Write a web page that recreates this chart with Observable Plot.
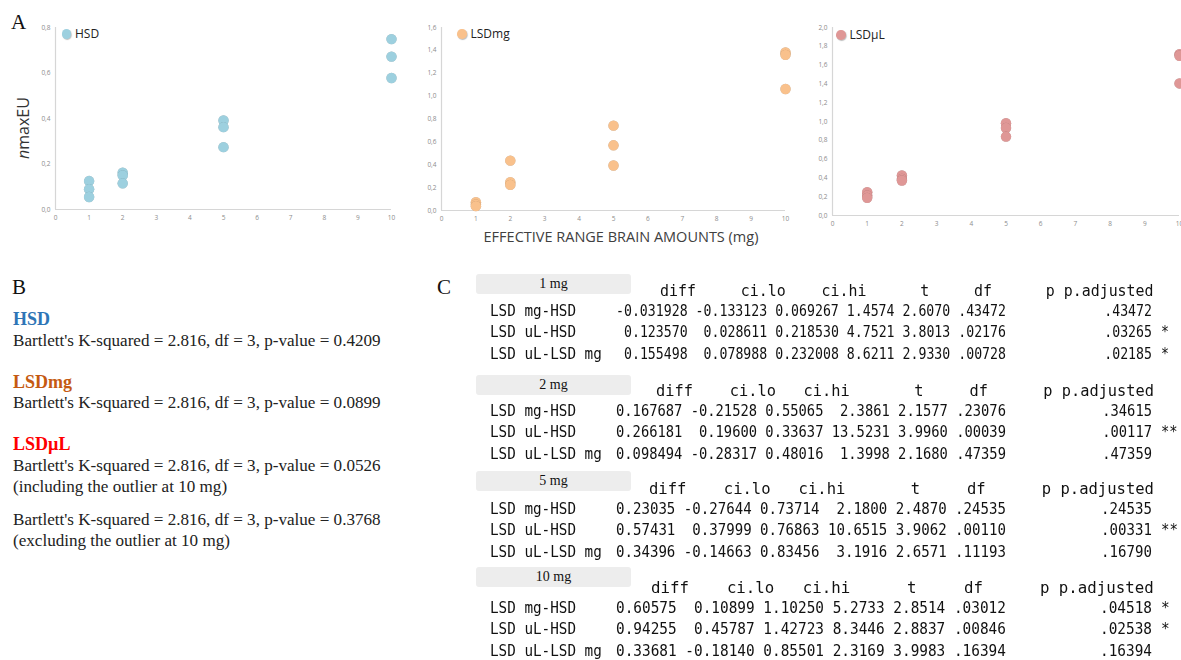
<!DOCTYPE html>
<html>
<head>
<meta charset="utf-8">
<script src="https://cdn.jsdelivr.net/npm/d3@7"></script>
<script src="https://cdn.jsdelivr.net/npm/@observablehq/plot@0.6"></script>
<style>
  html, body { margin: 0; padding: 0; background: #fff; }
  #root { position: relative; width: 1181px; height: 660px; overflow: hidden; background: #fff; }
  .abs { position: absolute; white-space: pre; }
  .panelLetter { font-family: "Liberation Serif", serif; font-size: 21px; color: #111; line-height: 1; }
  .legend { font-family: "Open Sans", sans-serif; font-size: 12px; color: #222; line-height: 1; display: flex; align-items: center; }
  .legend .sw { width: 9.5px; height: 9.5px; border-radius: 50%; margin-right: 4px; display: inline-block; }
  .serifB { font-family: "Liberation Serif", serif; font-size: 17.1px; color: #222; line-height: 1; }
  .mono { font-family: "DejaVu Sans Mono", monospace; font-size: 15.5px; color: #111; line-height: 16px; height: 16px; }
  .box { background: #ededed; border-radius: 3px; font-family: "Liberation Serif", serif; font-size: 14px; color: #111; text-align: center; line-height: 20px; }
</style>
</head>
<body>
<div id="root"></div>
<script>
// ---------------- DATA ----------------
const seriesNames = ["HSD", "LSDmg", "LSDµL"];
const doseLevels = [1, 2, 5, 10];
const xTickValues = [0, 1, 2, 3, 4, 5, 6, 7, 8, 9, 10];
// three replicate values per dose level
const hsdValues   = [[0.125, 0.089, 0.055], [0.162, 0.150, 0.115], [0.391, 0.362, 0.274], [0.749, 0.672, 0.578]];
const lsdMgValues = [[0.073, 0.052, 0.038], [0.436, 0.247, 0.224], [0.742, 0.570, 0.393], [1.382, 1.361, 1.062]];
const lsdUlValues = [[0.248, 0.212, 0.188], [0.425, 0.389, 0.372], [0.981, 0.931, 0.839], [1.717, 1.699, 1.405]];
const hsdYTicks   = [0, 0.2, 0.4, 0.6, 0.8];
const lsdMgYTicks = [0, 0.2, 0.4, 0.6, 0.8, 1.0, 1.2, 1.4, 1.6];
const lsdUlYTicks = [0, 0.2, 0.4, 0.6, 0.8, 1.0, 1.2, 1.4, 1.6, 1.8, 2.0];
const yAxisLabel = "maxEU";
const xAxisLabel = "EFFECTIVE RANGE BRAIN AMOUNTS (mg)";

// Panel B
const bartlettTitles = ["HSD", "LSDmg", "LSDµL"];
const bartlettLines = [
  ["Bartlett's K-squared = 2.816, df = 3, p-value = 0.4209"],
  ["Bartlett's K-squared = 2.816, df = 3, p-value = 0.0899"],
  ["Bartlett's K-squared = 2.816, df = 3, p-value = 0.0526", "(including the outlier at 10 mg)"],
  ["Bartlett's K-squared = 2.816, df = 3, p-value = 0.3768", "(excluding the outlier at 10 mg)"]
];

// Panel C
const tableDoses = ["1 mg", "2 mg", "5 mg", "10 mg"];
const comparisonNames = ["LSD mg-HSD", "LSD uL-HSD", "LSD uL-LSD mg"];
const columnNames = ["diff", "ci.lo", "ci.hi", "t", "df", "p", "p.adjusted"];
const rows1mg = [
  ["-0.031928", "-0.133123", "0.069267", "1.4574", "2.6070", ".43472", ".43472", ""],
  ["0.123570", "0.028611", "0.218530", "4.7521", "3.8013", ".02176", ".03265", "*"],
  ["0.155498", "0.078988", "0.232008", "8.6211", "2.9330", ".00728", ".02185", "*"]
];
const rows2mg = [
  ["0.167687", "-0.21528", "0.55065", "2.3861", "2.1577", ".23076", ".34615", ""],
  ["0.266181", "0.19600", "0.33637", "13.5231", "3.9960", ".00039", ".00117", "**"],
  ["0.098494", "-0.28317", "0.48016", "1.3998", "2.1680", ".47359", ".47359", ""]
];
const rows5mg = [
  ["0.23035", "-0.27644", "0.73714", "2.1800", "2.4870", ".24535", ".24535", ""],
  ["0.57431", "0.37999", "0.76863", "10.6515", "3.9062", ".00110", ".00331", "**"],
  ["0.34396", "-0.14663", "0.83456", "3.1916", "2.6571", ".11193", ".16790", ""]
];
const rows10mg = [
  ["0.60575", "0.10899", "1.10250", "5.2733", "2.8514", ".03012", ".04518", "*"],
  ["0.94255", "0.45787", "1.42723", "8.3446", "2.8837", ".00846", ".02538", "*"],
  ["0.33681", "-0.18140", "0.85501", "2.3169", "3.9983", ".16394", ".16394", ""]
];

// ---------------- STYLE / LAYOUT ----------------
const colors = ["#9dd0df", "#f9c18c", "#df9796"];
const titleColors = ["#2e75b6", "#c55a11", "#ff0000"];
const root = document.getElementById("root");

function el(cls, text, css) {
  const d = document.createElement("div");
  d.className = "abs " + cls;
  if (text != null) d.textContent = text;
  Object.assign(d.style, css);
  root.appendChild(d);
  return d;
}

const commaFmt = d => d.toFixed(1).replace(".", ",");

function toRows(values) {
  const out = [];
  doseLevels.forEach((dose, i) => values[i].forEach(v => out.push({dose, value: v})));
  return out;
}

function panel(values, yTicks, color, dims) {
  const chart = Plot.plot({
    width: dims.width, height: dims.height,
    marginLeft: dims.ml, marginRight: dims.mr, marginTop: dims.mt, marginBottom: dims.mb,
    style: {fontFamily: "Open Sans, sans-serif", fontSize: "6.5px", color: "#8c8c8c", background: "transparent", overflow: "visible"},
    x: {domain: [0, 10], ticks: xTickValues, tickSize: 0, tickPadding: 6, tickFormat: d => String(d), label: null},
    y: {domain: [0, yTicks[yTicks.length - 1]], ticks: yTicks, tickSize: 0, tickPadding: 5, tickFormat: commaFmt, label: null},
    marks: [
      Plot.ruleY([0], {stroke: "#d6d6d6", strokeWidth: 1.2}),
      Plot.ruleX([0], {stroke: "#d6d6d6", strokeWidth: 1.2}),
      Plot.dot(toRows(values), {x: "dose", y: "value", r: 5.2, fill: color, stroke: "none"})
    ]
  });
  chart.style.position = "absolute";
  chart.style.left = dims.left + "px";
  chart.style.top = "0px";
  chart.style.overflow = "visible";
  d3.select(chart).selectAll("circle").style("filter", "drop-shadow(0.7px 0.9px 0.7px rgba(0,0,0,0.28))");
  root.appendChild(chart);
}

panel(hsdValues, hsdYTicks, colors[0], {left: 0, width: 400, height: 230, ml: 55, mr: 9, mt: 27, mb: 21});
panel(lsdMgValues, lsdMgYTicks, colors[1], {left: 400, width: 400, height: 230, ml: 41, mr: 15, mt: 27, mb: 20});
panel(lsdUlValues, lsdUlYTicks, colors[2], {left: 790, width: 391, height: 236, ml: 42, mr: 2, mt: 27, mb: 21});

// legends
[[61.5, 28], [457, 28], [836, 29]].forEach((p, i) => {
  const d = el("legend", null, {left: p[0] + "px", top: p[1] + "px"});
  const sw = document.createElement("span");
  sw.className = "sw"; sw.style.background = colors[i];
  sw.style.boxShadow = "0.7px 0.9px 1px rgba(0,0,0,0.25)";
  d.appendChild(sw);
  d.appendChild(document.createTextNode(seriesNames[i]));
});

// panel letters
el("panelLetter", "A", {left: "11px", top: "12px"});
el("panelLetter", "B", {left: "12px", top: "277px"});
el("panelLetter", "C", {left: "437px", top: "277px"});

// y axis label (italic n)
const yl = el("", null, {left: "23px", top: "128px", fontFamily: "Open Sans, sans-serif", fontSize: "16px", color: "#333",
  transform: "translate(-50%,-50%) rotate(-90deg)", lineHeight: "1"});
const it = document.createElement("i"); it.textContent = "n"; yl.appendChild(it);
yl.appendChild(document.createTextNode(yAxisLabel));

// x axis label
el("", xAxisLabel, {left: "621px", top: "237px", transform: "translate(-50%,-50%)", fontFamily: "Open Sans, sans-serif",
  fontSize: "14.5px", color: "#404040", lineHeight: "1"});

// ---------------- Panel B ----------------
const titleBaselines = [325, 388, 450];
const lineBaselines = [[346], [408], [471, 492], [525, 546]];
bartlettTitles.forEach((t, i) => {
  el("serifB", t, {left: "13px", top: (titleBaselines[i] - 15) + "px", color: titleColors[i], fontWeight: "bold", fontSize: "18px"});
});
bartlettLines.forEach((lines, i) => {
  lines.forEach((txt, j) => el("serifB", txt, {left: "13px", top: (lineBaselines[i][j] - 14) + "px"}));
});

// ---------------- Panel C ----------------
const blocks = [rows1mg, rows2mg, rows5mg, rows10mg];
const headerY = [291, 391, 489, 588];
const boxTop = [274, 375, 471, 567];
const rowOffsets = [20, 41, 63];
const nameX = 490, valStartX = 616, pEndX = 1006, padjEndX = 1152, starX = 1161;
const glyphAdvance = 15.5 * 0.6021;
const nameAdvance = 8.6;

function monoText(text, y, x, advance, alignRight) {
  const s = advance / glyphAdvance;
  const css = {top: (y - 8) + "px", transform: "scaleX(" + s.toFixed(4) + ")"};
  if (alignRight) { css.right = (1181 - x) + "px"; css.transformOrigin = "right center"; }
  else { css.left = x + "px"; css.transformOrigin = "left center"; }
  return el("mono", text, css);
}

blocks.forEach((rows, b) => {
  el("box", tableDoses[b], {left: "476px", top: boxTop[b] + "px", width: "155px", height: "20px"});
  const widths = columnNames.slice(0, 6).map((c, j) => Math.max(c.length, ...rows.map(r => r[j].length)));
  // header: R-style right-aligned column names
  const headerCols = 13 + widths.reduce((a, w) => a + w + 1, 0) + 11;
  const hAdv = (padjEndX + 2 - nameX) / headerCols;
  const headerFull = " ".repeat(13) + widths.map((w, j) => " " + columnNames[j].padStart(w)).join("") + " " + columnNames[6];
  const lead = headerFull.length - headerFull.trimStart().length;
  monoText(headerFull.trimStart(), headerY[b], nameX + lead * hAdv, hAdv, false);
  // rows
  const valueStrings = rows.map(r => widths.map((w, j) => r[j].padStart(w)).join(" "));
  const vAdv = (pEndX - valStartX) / valueStrings[0].length;
  rows.forEach((r, i) => {
    const y = headerY[b] + rowOffsets[i];
    monoText(comparisonNames[i], y, nameX, nameAdvance, false);
    const vs = valueStrings[i];
    const vl = vs.length - vs.trimStart().length;
    monoText(vs.trimStart(), y, valStartX + vl * vAdv, vAdv, false);
    monoText(r[6], y, padjEndX, vAdv, true);
    if (r[7]) monoText(r[7], y, starX, vAdv, false);
  });
});
</script>
</body>
</html>
